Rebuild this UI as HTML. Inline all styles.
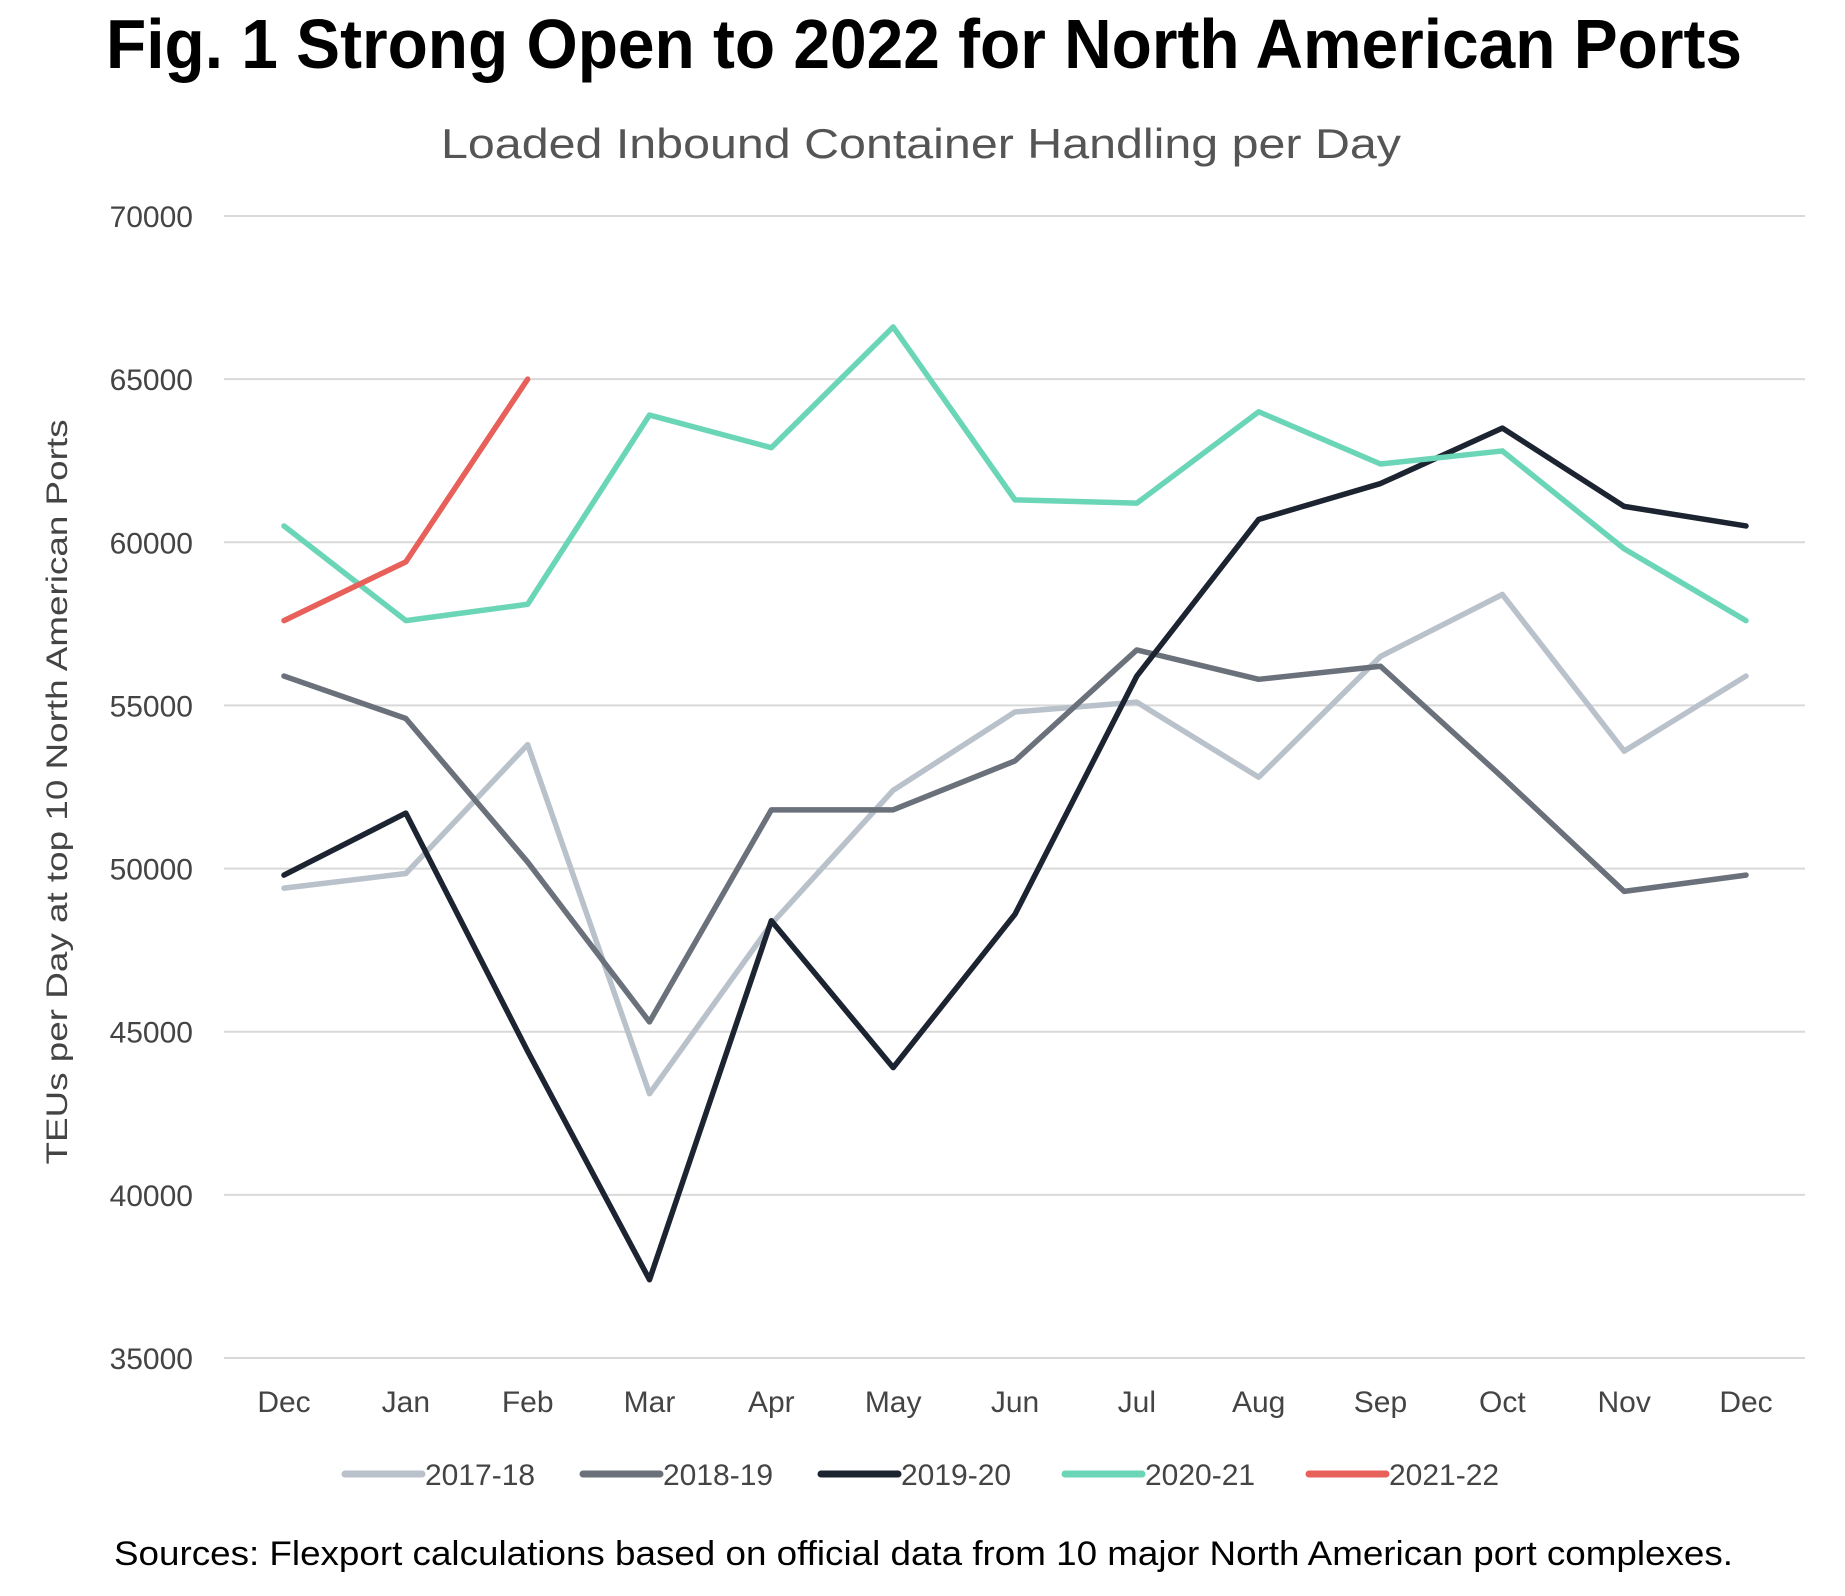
<!DOCTYPE html>
<html><head><meta charset="utf-8"><style>
html,body{margin:0;padding:0;background:#fff}
svg{display:block;font-family:"Liberation Sans",sans-serif}
</style></head><body>
<svg id="chart" width="1845" height="1596" viewBox="0 0 1845 1596" xmlns="http://www.w3.org/2000/svg">
<text x="106" y="68" font-size="70" font-weight="bold" fill="#000" textLength="1636" lengthAdjust="spacingAndGlyphs">Fig. 1 Strong Open to 2022 for North American Ports</text>
<text x="441" y="158" font-size="42" fill="#555" textLength="960" lengthAdjust="spacingAndGlyphs">Loaded Inbound Container Handling per Day</text>
<g id="grid"></g>
<g id="yticks"></g>
<g id="xticks"></g>
<text transform="translate(67,792) rotate(-90)" text-anchor="middle" font-size="30" fill="#444" textLength="745" lengthAdjust="spacingAndGlyphs">TEUs per Day at top 10 North American Ports</text>
<g id="series"></g>
<g id="legend"></g>
<text x="114" y="1565" font-size="34" fill="#000" textLength="1619" lengthAdjust="spacingAndGlyphs">Sources: Flexport calculations based on official data from 10 major North American port complexes.</text>
</svg>
<script>
const categories = ["Dec","Jan","Feb","Mar","Apr","May","Jun","Jul","Aug","Sep","Oct","Nov","Dec"];
const yTicks = [35000,40000,45000,50000,55000,60000,65000,70000];
const seriesNames = ["2017-18","2018-19","2019-20","2020-21","2021-22"];
const seriesColors = ["#b9c1ca","#6b717b","#1c2331","#6ad6b7","#e8605a"];
const s2017 = [49400,49850,53800,43100,48300,52400,54800,55100,52800,56500,58400,53600,55900];
const s2018 = [55900,54600,50200,45300,51800,51800,53300,56700,55800,56200,52800,49300,49800];
const s2019 = [49800,51700,44400,37400,48400,43900,48600,55900,60700,61800,63500,61100,60500];
const s2020 = [60500,57600,58100,63900,62900,66600,61300,61200,64000,62400,62800,59800,57600];
const s2021 = [57600,59400,65000];
const seriesData = [s2017,s2018,s2019,s2020,s2021];

const NS="http://www.w3.org/2000/svg";
const L=224,R=1805,T=216,B=1358,yMin=35000,yMax=70000;
const x0=284,x1=1746;
function xs(i){return x0+(x1-x0)*i/(categories.length-1);}
function ys(v){return B-(v-yMin)/(yMax-yMin)*(B-T);}
function mk(tag,attrs,parent){const e=document.createElementNS(NS,tag);for(const k in attrs)e.setAttribute(k,attrs[k]);parent.appendChild(e);return e;}
const grid=document.getElementById('grid'),yt=document.getElementById('yticks'),xt=document.getElementById('xticks');
yTicks.forEach(v=>{
  const l=mk('line',{x1:L,x2:R,y1:ys(v),y2:ys(v),stroke:'#d9d9d9','stroke-width':2},grid);
  
  
  const t=mk('text',{x:193,y:ys(v)+11,'text-anchor':'end','font-size':30,fill:'#444'},yt);
  t.textContent=v;
  
  
});
categories.forEach((c,i)=>{
  const t=mk('text',{x:xs(i),y:1412,'text-anchor':'middle','font-size':30,fill:'#444'},xt);
  t.textContent=c;
  
  
});
const sg=document.getElementById('series');
seriesData.forEach((d,si)=>{
  const p=mk('polyline',{points:d.map((v,i)=>xs(i)+','+ys(v)).join(' '),fill:'none',stroke:seriesColors[si],'stroke-width':5.5,'stroke-linejoin':'round','stroke-linecap':'round'},sg);
  
  
});
const lg=document.getElementById('legend');
const legX=[345,583,821,1065,1309];
seriesNames.forEach((n,i)=>{
  const g=mk('g',{},lg);
  
  
  mk('line',{x1:legX[i],x2:legX[i]+77,y1:1474,y2:1474,stroke:seriesColors[i],'stroke-width':7,'stroke-linecap':'round'},g);
  const t=mk('text',{x:legX[i]+80,y:1485,'font-size':30,fill:'#444'},g);
  t.textContent=n;
});
</script>
</body></html>
